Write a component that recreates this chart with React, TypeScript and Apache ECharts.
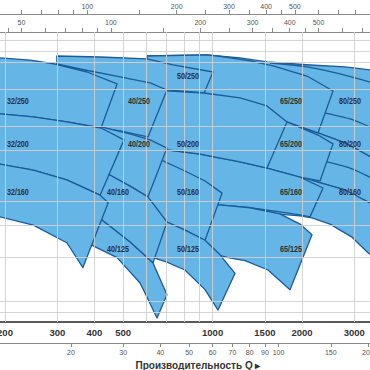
import React, { useEffect, useRef } from 'react';
import * as echarts from 'echarts';

// ---- axis ranges (flow in l/min, head in m) ----
const FLOW_MIN = 192.4;
const FLOW_MAX = 3388;
const HEAD_MIN = 8.24;
const HEAD_MAX = 119.1;
const M3H_PER_LMIN = 0.06;
const LMIN_PER_USGPM = 3.78541;
const LMIN_PER_IMPGPM = 4.54609;

// ---- tick labels ----
const flowLabelsLmin = [200, 300, 400, 500, 1000, 1500, 2000, 3000];
const flowTicksM3h = [20, 30, 40, 50, 60, 70, 80, 90, 100, 150, 200];
const flowTicksUsGpm = [60, 70, 80, 90, 100, 150, 200, 250, 300, 350, 400, 450, 500, 600, 700, 800];
const flowLabelsUsGpm = [100, 200, 300, 400, 500];
const flowTicksImpGpm = [45, 50, 60, 70, 80, 90, 100, 150, 200, 250, 300, 350, 400, 450, 500, 600, 700];
const flowLabelsImpGpm = [50, 100, 200, 300, 400, 500];
const gridFlowLmin = [200, 300, 400, 500, 600, 700, 800, 900, 1000, 1500, 2000, 3000];
const gridHead = [9, 10, 15, 20, 25, 40, 50, 70, 90, 100, 110];

// ---- pump working fields, outlines as [Q l/min, H m] ----
const r80_250 = [[601, 95.5], [958, 96.4], [1237, 93.8], [1525, 90.4], [2128, 87.9], [2791, 86.3], [3662, 83.2], [3662, 36.0], [2791, 42.9], [2264, 47.0], [1822, 50.6], [1237, 57.0], [601, 66.7]];
const r80_200 = [[601, 66.7], [1237, 57.0], [1822, 50.6], [2264, 47.0], [2791, 42.9], [3662, 36.0], [3662, 23.1], [2791, 27.8], [2264, 29.9], [1686, 33.4], [601, 40.2]];
const r80_160 = [[601, 40.2], [1686, 33.4], [2264, 29.9], [2791, 27.8], [3388, 24.7], [3662, 23.6], [3662, 14.3], [3336, 15.6], [2947, 18.0], [2485, 20.3], [2161, 21.5], [1969, 21.9], [1336, 22.7], [601, 24.2]];
const trim80_250a = [[1561, 89.5], [2079, 86.3], [2685, 80.9], [3662, 73.1]];
const trim80_250b = [[1969, 60.3], [2390, 56.5], [2902, 53.5], [3388, 49.7], [3662, 47.9]];
const trim80_200 = [[1969, 38.0], [2428, 36.0], [2902, 34.0], [3388, 31.3], [3662, 29.9]];

const r65_250 = [[601, 95.5], [958, 96.4], [1101, 94.6], [1336, 91.2], [1597, 87.1], [2079, 79.4], [2543, 69.2], [2264, 47.0], [1780, 52.0], [1237, 58.1], [601, 68.5]];
const r65_200 = [[592, 66.1], [907, 63.7], [1237, 59.2], [1780, 52.0], [2264, 46.1], [2543, 42.5], [2300, 30.2], [1969, 31.3], [1525, 34.0], [1237, 36.0], [907, 38.7], [592, 41.3]];
const r65_160 = [[592, 41.3], [907, 38.7], [1237, 36.0], [1525, 34.0], [1969, 31.3], [2354, 28.3], [2128, 21.7], [1969, 22.1], [1686, 22.7], [1336, 23.6], [1076, 24.2], [592, 25.4]];
const r65_125 = [[592, 25.4], [943, 24.4], [1076, 24.2], [1336, 23.6], [1686, 22.3], [1969, 20.3], [2161, 18.4], [1822, 11.1], [1537, 13.3], [1286, 14.5], [1127, 14.9], [1019, 15.4], [943, 16.7], [592, 17.5]];

const r50_250 = [[299, 95.5], [418, 94.6], [601, 92.9], [736, 87.9], [1003, 82.4], [936, 67.9], [702, 69.8], [488, 76.6], [299, 85.5]];
const r50_200 = [[488, 76.6], [702, 69.2], [936, 67.9], [1237, 64.9], [1525, 60.3], [1780, 52.0], [1525, 34.0], [1237, 36.0], [907, 38.7], [592, 41.3], [488, 42.5]];
const r50_160 = [[488, 44.1], [616, 38.4], [807, 33.1], [943, 30.2], [1076, 27.0], [943, 17.5], [807, 19.2], [702, 20.7], [616, 22.1], [488, 24.2]];
const r50_125 = [[616, 22.1], [702, 20.7], [807, 19.2], [943, 17.5], [1059, 15.3], [1190, 12.9], [1043, 9.2], [943, 11.1], [807, 13.3], [702, 14.3], [630, 14.9], [616, 17.5]];

const r40_250 = [[299, 88.7], [358, 84.7], [488, 78.7], [616, 74.5], [702, 69.8], [606, 45.3], [488, 47.9], [421, 49.2], [299, 52.5]];
const r40_200 = [[299, 52.5], [421, 49.7], [527, 46.6], [616, 44.1], [702, 40.9], [606, 26.1], [527, 28.8], [451, 31.9], [299, 36.6]];
const r40_160 = [[299, 36.6], [358, 35.0], [451, 31.9], [527, 28.8], [606, 26.1], [702, 20.7], [630, 14.2], [527, 17.2], [424, 21.1], [358, 24.2]];
const r40_125 = [[358, 24.2], [424, 21.1], [527, 17.2], [630, 14.2], [702, 10.6], [650, 8.55], [570, 11.8], [477, 14.9], [393, 16.7], [358, 17.9]];

const r32_250 = [[178, 94.6], [192, 93.8], [243, 92.0], [295, 88.7], [378, 82.4], [477, 73.8], [421, 49.2], [323, 52.0], [249, 54.5], [192, 56.0], [178, 56.5]];
const r32_200 = [[178, 56.5], [192, 56.0], [249, 54.5], [323, 52.0], [421, 49.2], [503, 44.1], [418, 26.5], [323, 30.5], [249, 33.4], [192, 35.3], [178, 36.0]];
const r32_160 = [[178, 36.0], [192, 35.3], [249, 33.4], [323, 30.5], [418, 26.5], [445, 24.7], [366, 13.6], [323, 17.1], [249, 20.1], [192, 21.7], [178, 22.3]];

// ---- field labels ----
const labelNames = ['32/250', '32/200', '32/160', '40/250', '40/200', '40/160', '40/125', '50/250', '50/200', '50/160', '50/125', '65/250', '65/200', '65/160', '65/125', '80/250', '80/200', '80/160'];
const labelQ = [221, 221, 221, 565, 565, 480, 480, 826, 826, 826, 826, 1837, 1837, 1837, 1837, 2902, 2902, 2902];
const labelH = [63.1, 42.5, 27.3, 63.1, 42.5, 27.3, 16.1, 79.4, 42.5, 27.3, 16.1, 63.1, 42.5, 27.3, 16.1, 63.1, 42.5, 27.3];

const FONT = "'Liberation Sans', Arial, sans-serif";
const FILL = '#65b6e6';
const EDGE = '#1c5a98';
const plain = (v: number) => String(Math.round(v));

export default function App() {
  const ref = useRef<HTMLDivElement>(null);

  useEffect(() => {
    if (!ref.current) return;
    const chart = echarts.init(ref.current, null, { renderer: 'svg' });

    const shapes: { pts: number[][]; closed: boolean }[] = [
      { pts: r80_250, closed: true },
      { pts: r80_200, closed: true },
      { pts: r80_160, closed: true },
      { pts: trim80_250a, closed: false },
      { pts: trim80_250b, closed: false },
      { pts: trim80_200, closed: false },
      { pts: r65_250, closed: true },
      { pts: r65_200, closed: true },
      { pts: r65_160, closed: true },
      { pts: r65_125, closed: true },
      { pts: r50_250, closed: true },
      { pts: r50_200, closed: true },
      { pts: r50_160, closed: true },
      { pts: r50_125, closed: true },
      { pts: r40_250, closed: true },
      { pts: r40_200, closed: true },
      { pts: r40_160, closed: true },
      { pts: r40_125, closed: true },
      { pts: r32_250, closed: true },
      { pts: r32_200, closed: true },
      { pts: r32_160, closed: true },
    ];

    const smallAxis = (
      min: number,
      max: number,
      position: string,
      offset: number,
      ticks: number[],
      labels: number[],
      margin: number
    ) => ({
      type: 'log',
      min,
      max,
      position,
      offset,
      axisLine: { show: true, lineStyle: { color: '#8a8a8a', width: 1.2 } },
      axisTick: { show: true, inside: false, length: 4, customValues: ticks, lineStyle: { color: '#8a8a8a', width: 1 } },
      axisLabel: { customValues: labels, fontSize: 7, color: '#555555', margin, fontFamily: FONT, formatter: plain },
      splitLine: { show: false },
      minorTick: { show: false },
    });

    chart.setOption({
      animation: false,
      backgroundColor: '#ffffff',
      grid: { left: 0, right: 0, top: 32, bottom: 48, containLabel: false, outerBoundsMode: 'none' },
      xAxis: [
        {
          type: 'log',
          min: FLOW_MIN,
          max: FLOW_MAX,
          position: 'bottom',
          axisLine: { show: true, lineStyle: { color: '#5a5a5a', width: 2 } },
          axisTick: { show: false },
          axisLabel: {
            customValues: flowLabelsLmin,
            fontSize: 9.5,
            fontWeight: 'bold',
            color: '#333333',
            margin: 5,
            fontFamily: FONT,
            formatter: plain,
          },
          splitLine: { show: false },
        },
        {
          ...smallAxis(FLOW_MIN * M3H_PER_LMIN, FLOW_MAX * M3H_PER_LMIN, 'bottom', 21, flowTicksM3h, flowTicksM3h, 6),
          name: 'Производительность Q ▸',
          nameLocation: 'middle',
          nameGap: 14,
          nameTextStyle: { fontSize: 10, fontWeight: 'bold', color: '#333333', fontFamily: FONT, padding: [0, 0, 0, 26] },
        },
        smallAxis(FLOW_MIN / LMIN_PER_USGPM, FLOW_MAX / LMIN_PER_USGPM, 'top', 18, flowTicksUsGpm, flowLabelsUsGpm, 4),
        smallAxis(FLOW_MIN / LMIN_PER_IMPGPM, FLOW_MAX / LMIN_PER_IMPGPM, 'top', 0, flowTicksImpGpm, flowLabelsImpGpm, 6),
      ],
      yAxis: {
        type: 'log',
        min: HEAD_MIN,
        max: HEAD_MAX,
        show: false,
        splitLine: { show: false },
      },
      series: [
        {
          type: 'custom',
          name: 'fields',
          coordinateSystem: 'cartesian2d',
          xAxisIndex: 0,
          yAxisIndex: 0,
          silent: true,
          clip: false,
          z: 2,
          data: shapes.map((s) => s.pts[0]),
          renderItem: (params: any, api: any) => {
            const s = shapes[params.dataIndex];
            const points = s.pts.map((p) => api.coord(p));
            if (s.closed) {
              return {
                type: 'polygon',
                shape: { points },
                style: { fill: FILL, stroke: EDGE, lineWidth: 1.3, lineJoin: 'round' },
              };
            }
            return {
              type: 'polyline',
              shape: { points, smooth: 0.3 },
              style: { fill: 'none', stroke: EDGE, lineWidth: 1.3 },
            };
          },
        },
        {
          type: 'line',
          name: 'grid',
          data: [],
          z: 5,
          markLine: {
            silent: true,
            animation: false,
            symbol: ['none', 'none'],
            label: { show: false },
            lineStyle: { color: 'rgba(208,208,208,0.9)', width: 1, type: 'solid' },
            data: [
              ...gridFlowLmin.map((v) => ({ xAxis: v })),
              ...gridHead.map((v) => ({ yAxis: v })),
            ],
          },
        },
        {
          type: 'custom',
          name: 'labels',
          coordinateSystem: 'cartesian2d',
          silent: true,
          z: 10,
          data: labelQ.map((q, i) => [q, labelH[i]]),
          renderItem: (params: any, api: any) => {
            const p = api.coord([api.value(0), api.value(1)]);
            return {
              type: 'text',
              x: p[0],
              y: p[1],
              scaleX: 0.8,
              style: {
                text: labelNames[params.dataIndex],
                fill: '#2e2e2e',
                fontSize: 9,
                fontWeight: 'bold',
                fontFamily: FONT,
                align: 'center',
                verticalAlign: 'middle',
              },
            };
          },
        },
      ],
    });

    return () => chart.dispose();
  }, []);

  return (
    <div
      ref={ref}
      style={{ position: 'absolute', left: 0, top: 0, width: 370, height: 370, background: '#fff' }}
    />
  );
}
